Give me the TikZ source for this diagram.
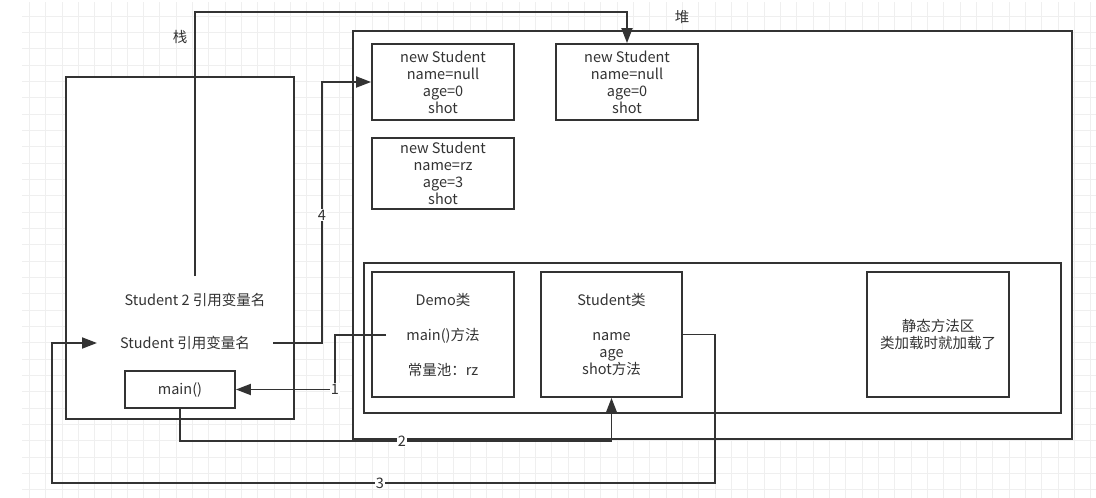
\documentclass[tikz,border=0pt]{standalone}
\usepackage{fontspec}
\setmainfont{Noto Sans CJK SC}
\usetikzlibrary{arrows.meta}
\definecolor{ink}{HTML}{333333}
\definecolor{gridc}{HTML}{EFEFEF}
\tikzset{
  box/.style={draw=ink, line width=1.8pt, fill=white, inner sep=0pt, text=ink, align=center},
  txt/.style={text=ink, inner sep=1pt, align=center},
  conn/.style={draw=ink, line width=1.8pt},
  tip/.style={-{Triangle[length=15pt,width=11pt]}},
  numlabel/.style={fill=white, text=ink, inner sep=1pt, font=\fontsize{14.5}{16}\selectfont}
}
\begin{document}
\begin{tikzpicture}[x=1pt,y=-1pt, font=\fontsize{14.5}{17}\selectfont]
\useasboundingbox (0,0) rectangle (1096,498);
% grid
\foreach \k in {0,...,65} {\draw[gridc, line width=0.9pt] ({29.3+16.33*\k},2) -- ({29.3+16.33*\k},498);}
\foreach \k in {-5,...,24} {\draw[gridc, line width=0.9pt] (22,{408-16.33*\k}) -- (1096,{408-16.33*\k});}
% labels
\node[txt] (lzhan) at (180,37) {栈};
\node[txt] (ldui) at (682,17) {堆};
\node[txt] (lffq) at (433,245) {方法区};
% stack
\node[box, minimum width=228pt, minimum height=342pt] (stack) at (180,248) {};
% heap
\node[box, minimum width=719pt, minimum height=408pt] (heap) at (712.5,235) {};
\node[box, minimum width=142pt, minimum height=76pt] (s1) at (443,82) {new Student\\name=null\\age=0\\shot};
\node[box, minimum width=142pt, minimum height=76pt] (s2) at (627,82) {new Student\\name=null\\age=0\\shot};
\node[box, minimum width=142pt, minimum height=71pt] (s3) at (443,173.5) {new Student\\name=rz\\age=3\\shot};
% method area
\node[box, minimum width=697pt, minimum height=150pt] (marea) at (712.5,338) {};
\node[box, minimum width=142pt, minimum height=125pt] (demo) at (443,334.5) {Demo类\\[18pt]main()方法\\[18pt]常量池：rz};
\node[box, minimum width=141pt, minimum height=125pt] (stucls) at (611.5,334.5) {Student类\\[18pt]name\\age\\shot方法};
\node[box, minimum width=142pt, minimum height=125pt] (static) at (938,334.5) {静态方法区\\类加载时就加载了};
% stack contents
\node[txt] (ref2) at (195,300) {Student 2 引用变量名};
\node[txt] (ref1) at (185,343) {Student 引用变量名};
\node[box, minimum width=110pt, minimum height=37pt] (main) at (180,389.5) {main()};
% connector: Student 2 -> second object
\coordinate (c0s) at (195,276);
\coordinate (c0a) at (195,12);
\coordinate (c0b) at (627,12);
\draw[conn, tip] (c0s) -- (c0a) -- (c0b) -- (s2.north);
% connector 4
\coordinate (c4s) at (273,343);
\coordinate (c4a) at (322,343);
\coordinate (c4b) at (322,82);
\draw[conn, tip] (c4s) -- (c4a) -- (c4b) -- (s1.west);
\node[numlabel] (n4) at (322,215) {4};
% connector 1
\coordinate (c1s) at (386,335);
\coordinate (c1a) at (335,335);
\coordinate (c1b) at (335,389.5);
\draw[conn, tip] (c1s) -- (c1a) -- (c1b) -- (main.east);
\node[numlabel] (n1) at (c1b) {1};
% connector 2
\coordinate (c2a) at (180,441);
\coordinate (c2b) at (611.5,441);
\draw[conn, tip] (main.south) -- (c2a) -- (c2b) -- (stucls.south);
\node[numlabel] (n2) at (402,441) {2};
% connector 3
\coordinate (c3a) at (715,334.5);
\coordinate (c3b) at (715,483);
\coordinate (c3c) at (52,483);
\coordinate (c3d) at (52,343);
\coordinate (c3e) at (97,343);
\draw[conn, tip] (stucls.east) -- (c3a) -- (c3b) -- (c3c) -- (c3d) -- (c3e);
\node[numlabel] (n3) at (380,483) {3};
\end{tikzpicture}
\end{document}
